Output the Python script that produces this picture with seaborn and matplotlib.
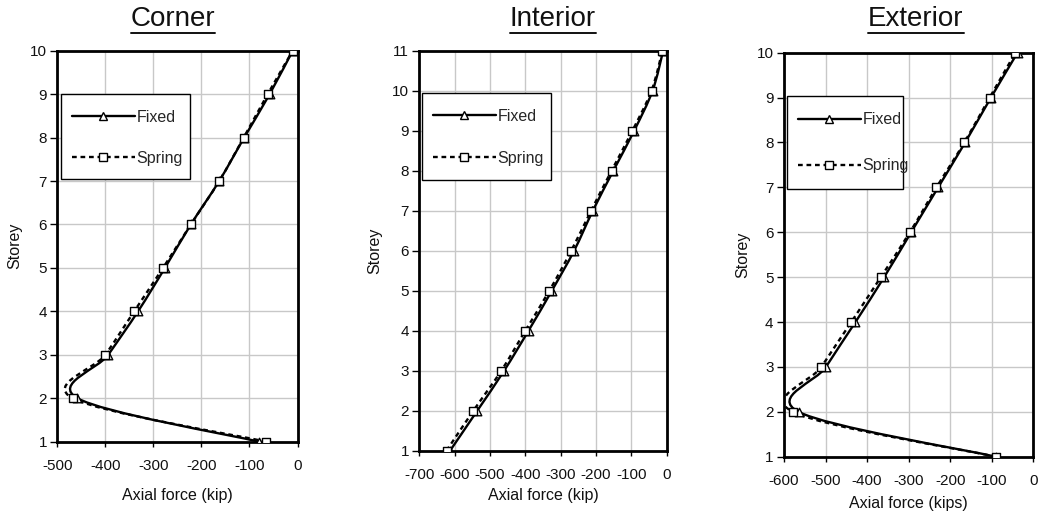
import numpy as np
import matplotlib
matplotlib.use("Agg")
import matplotlib.pyplot as plt
from matplotlib.path import Path
from matplotlib.patches import PathPatch, Rectangle
from matplotlib.lines import Line2D
import pandas as pd
import seaborn as sns

# data (axial force per storey)
storey_corner = [1, 2, 3, 4, 5, 6, 7, 8, 9, 10]
corner_fixed = [-80, -458, -394, -332, -276, -222, -163, -111, -58, -10]
corner_spring = [-65, -468, -400, -340, -280, -222, -163, -112, -62, -10]

storey_interior = [1, 2, 3, 4, 5, 6, 7, 8, 9, 10, 11]
interior_fixed = [-613, -536, -460, -391, -325, -262, -209, -151, -92, -40, -10]
interior_spring = [-623, -547, -468, -400, -332, -270, -214, -156, -97, -43, -12]

storey_exterior = [1, 2, 3, 4, 5, 6, 7, 8, 9, 10]
exterior_fixed = [-90, -565, -499, -428, -359, -294, -229, -164, -102, -38]
exterior_spring = [-90, -579, -510, -438, -367, -297, -233, -166, -105, -43]

titles = ["Corner", "Interior", "Exterior"]
xlabels = ["Axial force (kip)", "Axial force (kip)", "Axial force (kips)"]
series_names = ["Fixed", "Spring"]

FONT = "Liberation Sans"
W, H = 1042, 512
TXT = "#111111"


def smooth_path(x, y):
    # Excel-style smoothed line (Catmull-Rom as cubic Bezier segments)
    pts = np.column_stack([x, y]).astype(float)
    n = len(pts)
    verts = [pts[0]]
    codes = [Path.MOVETO]
    for i in range(n - 1):
        p0 = pts[i - 1] if i > 0 else pts[i]
        p1, p2 = pts[i], pts[i + 1]
        p3 = pts[i + 2] if i + 2 < n else pts[i + 1]
        verts += [p1 + (p2 - p0) / 6, p2 - (p3 - p1) / 6, p2]
        codes += [Path.CURVE4] * 3
    return Path(verts, codes)


def draw_panel(ax, box, storeys, fixed, spring, xlim, title_x, title, xlabel,
               leg_box, leg_rows, xlab_y, ylab_x):
    # box / leg_box / leg_rows are pixel positions in the figure (top-down)
    left, top, right, bottom = box
    aw, ah = right - left, bottom - top

    df = pd.DataFrame({"storey": storeys * 2,
                       "force": fixed + spring,
                       "case": ["Fixed"] * len(storeys) + ["Spring"] * len(storeys)})
    styles = {"Fixed": dict(ls="-", marker="^"),
              "Spring": dict(ls=(0, (2, 1.6)), marker="s")}
    for name in series_names:
        sub = df[df["case"] == name]
        ax.add_patch(PathPatch(smooth_path(sub["force"], sub["storey"]),
                               fill=False, edgecolor="black", lw=1.7,
                               ls=styles[name]["ls"], zorder=3))
        sns.scatterplot(data=sub, x="force", y="storey", ax=ax,
                        marker=styles[name]["marker"], s=38, color="white",
                        edgecolor="black", linewidth=1, zorder=4, legend=False)

    ax.set_xlim(*xlim)
    ax.set_ylim(1, storeys[-1])
    ax.set_xticks(np.arange(xlim[0], 1, 100))
    ax.set_yticks(storeys)
    ax.grid(True, color="#c8c8c8", lw=1)
    ax.set_axisbelow(True)
    for sp in ax.spines.values():
        sp.set_visible(True)
        sp.set_color("black")
        sp.set_linewidth(2)
    ax.tick_params(direction="out", width=1, color="black",
                   labelsize=11, labelcolor=TXT, left=True, bottom=True)
    ax.tick_params(axis="x", length=3.5, pad=9)
    ax.tick_params(axis="y", length=5, pad=2.5)
    for lab in ax.get_xticklabels() + ax.get_yticklabels():
        lab.set_family(FONT)
    ax.set_xlabel(xlabel, fontsize=11.5, family=FONT, color=TXT)
    ax.set_ylabel("Storey", fontsize=11.5, family=FONT, color=TXT)
    ax.xaxis.set_label_coords(0.5, xlab_y)
    ax.yaxis.set_label_coords(ylab_x, 0.5)

    # legend frame drawn as a plain rectangle, entries placed inside it
    bx0, by0, bx1, by1 = leg_box
    ax.add_patch(Rectangle(((bx0 - left) / aw, (bottom - by1) / ah),
                           (bx1 - bx0) / aw, (by1 - by0) / ah,
                           transform=ax.transAxes, facecolor="white",
                           edgecolor="black", lw=1, zorder=6, clip_on=False))
    handles = [Line2D([], [], color="black", lw=1.7, ls=styles[n]["ls"],
                      marker=styles[n]["marker"], ms=5.5, mfc="white",
                      mec="black", mew=1) for n in series_names]
    row1, row2 = leg_rows
    spacing = ((row2 - row1) - 15) / 16
    leg = ax.legend(handles, series_names, loc="upper left",
                    bbox_to_anchor=((bx0 + 11 - left) / aw,
                                    (bottom - (row1 - 6)) / ah),
                    borderaxespad=0, borderpad=0, frameon=False,
                    handlelength=3.9, handletextpad=0.12,
                    labelspacing=spacing,
                    prop={"family": FONT, "size": 11.5})
    leg.set_zorder(7)

    fig = ax.figure
    fig.text(title_x / W, 1 - 19 / H, title, ha="center", va="center",
             fontsize=20, family=FONT, color=TXT)


sns.set_style("whitegrid")
plt.rcParams["axes.unicode_minus"] = False
fig = plt.figure(figsize=(W / 100, H / 100), dpi=100)

boxes = [(57.3, 50.7, 297.5, 441.7),
         (419.3, 50.7, 666.7, 450.7),
         (784.0, 52.7, 1033.3, 456.7)]
axes = [fig.add_axes([l / W, 1 - b / H, (r - l) / W, (b - t) / H])
        for l, t, r, b in boxes]

draw_panel(axes[0], boxes[0], storey_corner, corner_fixed, corner_spring,
           (-500, 0), 173, titles[0], xlabels[0],
           (61.3, 94, 190, 178.7), (116, 157), -0.118, -0.147)
draw_panel(axes[1], boxes[1], storey_interior, interior_fixed, interior_spring,
           (-700, 0), 553, titles[1], xlabels[1],
           (422.3, 92.7, 551.3, 180), (115, 156.7), -0.093, -0.15)
draw_panel(axes[2], boxes[2], storey_exterior, exterior_fixed, exterior_spring,
           (-600, 0), 916, titles[2], xlabels[2],
           (787.3, 96, 903.3, 189.3), (118.3, 164.3), -0.097, -0.137)

# underline the titles
fig.canvas.draw()
renderer = fig.canvas.get_renderer()
for t in fig.texts:
    bb = t.get_window_extent(renderer)
    y = (bb.y0 - 1) / H
    fig.add_artist(Line2D([bb.x0 / W, bb.x1 / W], [y, y], color=TXT,
                          lw=1.4, transform=fig.transFigure))

fig.savefig("out.png", dpi=100)
